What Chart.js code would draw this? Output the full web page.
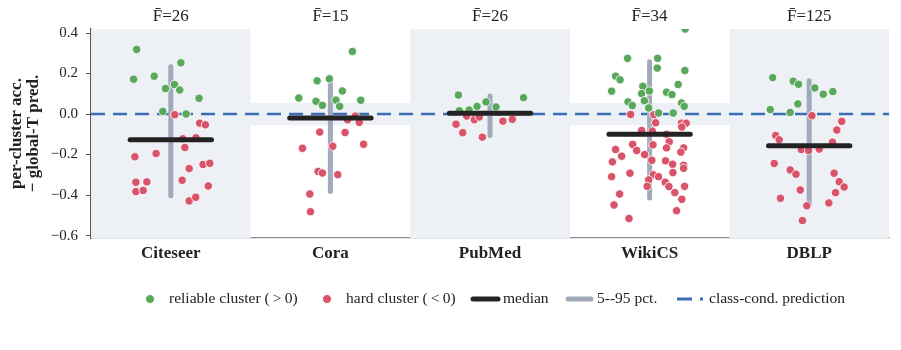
<!DOCTYPE html>
<html lang="en">
<head>
<meta charset="UTF-8">
<title>Per-cluster accuracy vs global-T prediction</title>
<script src="https://cdn.jsdelivr.net/npm/chart.js@4"></script>
<style>
    html, body { margin: 0; padding: 0; background: #ffffff; }
</style>
</head>
<body>
<canvas id="chart" width="901" height="350"></canvas>
<script>
// datasets on the x axis
const categories = ['Citeseer', 'Cora', 'PubMed', 'WikiCS', 'DBLP'];
const fbar = [26, 15, 26, 34, 125];
const medians = [-0.127, -0.02, 0.004, -0.10, -0.157];
const pct5 = [-0.403, -0.383, -0.106, -0.415, -0.448];
const pct95 = [0.233, 0.164, 0.089, 0.258, 0.164];
const yTicks = [-0.6, -0.4, -0.2, 0.0, 0.2, 0.4];

// clusters as [jitter, value], one list per dataset
const reliable = [
    [[-0.214, 0.319], [-0.233, 0.172], [-0.104, 0.187], [0.063, 0.253], [-0.033, 0.126], [0.023, 0.146],
     [0.056, 0.119], [0.177, 0.078], [-0.05, 0.013], [0.096, 0.0]],
    [[0.138, 0.309], [-0.083, 0.164], [-0.006, 0.174], [0.075, 0.114], [-0.198, 0.079], [-0.09, 0.063],
     [-0.05, 0.043], [0.035, 0.069], [0.058, 0.038], [0.19, 0.068]],
    [[-0.198, 0.094], [-0.192, 0.017], [-0.131, 0.02], [-0.081, 0.038], [-0.025, 0.06], [0.038, 0.035],
     [0.21, 0.081]],
    [[0.223, 0.42], [-0.138, 0.275], [0.05, 0.275], [0.048, 0.227], [0.221, 0.215], [-0.213, 0.187],
     [-0.185, 0.169], [0.179, 0.146], [-0.042, 0.137], [-0.002, 0.114], [-0.238, 0.113], [-0.05, 0.101],
     [0.106, 0.108], [0.14, 0.096], [-0.033, 0.066], [-0.135, 0.06], [-0.108, 0.042], [-0.006, 0.03],
     [0.2, 0.055], [0.217, 0.038], [0.056, 0.005], [0.148, 0.005]],
    [[-0.229, 0.18], [-0.1, 0.162], [-0.067, 0.147], [0.035, 0.129], [0.088, 0.098], [0.148, 0.111],
     [-0.244, 0.022], [-0.071, 0.05], [-0.119, 0.008]]
];
const hard = [
    [[0.025, -0.003], [0.181, -0.045], [0.217, -0.053], [0.075, -0.122], [0.158, -0.117], [0.088, -0.165],
     [-0.225, -0.211], [-0.092, -0.195], [0.115, -0.269], [0.202, -0.249], [0.244, -0.243], [0.071, -0.327],
     [-0.219, -0.337], [-0.15, -0.335], [-0.219, -0.383], [-0.173, -0.377], [0.235, -0.355], [0.115, -0.429],
     [0.156, -0.411]],
    [[0.156, -0.01], [0.108, -0.028], [0.181, -0.041], [-0.067, -0.089], [0.092, -0.091], [-0.175, -0.169],
     [0.015, -0.159], [0.208, -0.149], [-0.077, -0.283], [-0.05, -0.291], [0.046, -0.299], [-0.129, -0.395],
     [-0.125, -0.482]],
    [[-0.146, -0.01], [-0.098, -0.028], [-0.067, -0.015], [-0.213, -0.05], [-0.171, -0.092], [-0.048, -0.114],
     [0.081, -0.035], [0.14, -0.026]],
    [[-0.119, -0.002], [0.027, -0.003], [0.038, -0.043], [0.2, -0.045], [0.229, -0.045], [0.202, -0.064],
     [-0.05, -0.081], [0.017, -0.084], [0.106, -0.1], [0.123, -0.137], [-0.106, -0.15], [0.021, -0.152],
     [0.106, -0.167], [0.213, -0.167], [-0.213, -0.175], [-0.081, -0.18], [0.196, -0.188], [-0.175, -0.208],
     [-0.031, -0.2], [-0.233, -0.236], [0.014, -0.228], [0.1, -0.231], [0.144, -0.248], [0.213, -0.253],
     [0.213, -0.268], [-0.123, -0.292], [0.146, -0.289], [-0.238, -0.309], [0.023, -0.3], [0.056, -0.309],
     [-0.006, -0.325], [0.098, -0.337], [-0.015, -0.357], [0.121, -0.358], [0.219, -0.357], [-0.188, -0.395],
     [0.158, -0.388], [0.202, -0.421], [-0.223, -0.449], [0.169, -0.477], [-0.129, -0.516]],
    [[0.017, -0.008], [0.204, -0.036], [0.173, -0.079], [-0.21, -0.106], [-0.188, -0.127], [0.146, -0.139],
     [-0.05, -0.175], [-0.004, -0.18], [0.063, -0.173], [-0.219, -0.244], [-0.119, -0.276], [-0.083, -0.297],
     [0.156, -0.292], [0.188, -0.334], [0.219, -0.36], [-0.056, -0.375], [0.165, -0.388], [-0.18, -0.416],
     [0.123, -0.439], [-0.015, -0.453], [-0.042, -0.526]]
];

const GREEN = '#59a85b';
const RED = '#d9536a';
const GREY = '#a0aaba';
const BLACK = '#232323';
const BLUE = '#3a6db3';
const BAND = '#edf0f5';
const SERIF = "'Liberation Serif', 'Times New Roman', serif";

Chart.defaults.font.family = SERIF;
Chart.defaults.color = '#222';

function toPoints(groups) {
    return groups.flatMap((g, i) => g.map(([j, v]) => ({ x: i + j, y: v })));
}

const medianData = medians.flatMap((m, i) => [{ x: i - 0.255, y: m }, { x: i + 0.255, y: m }, { x: i + 0.5, y: null }]);
const pctData = pct5.flatMap((lo, i) => [{ x: i, y: lo }, { x: i, y: pct95[i] }, { x: i + 0.5, y: null }]);

// light bands behind every other dataset plus the +-0.055 strip around zero
const bands = {
    id: 'bands',
    beforeDatasetsDraw(chart) {
        const { ctx, chartArea, scales } = chart;
        const x = scales.x, y = scales.y;
        ctx.save();
        ctx.fillStyle = BAND;
        const y0 = y.getPixelForValue(0.055), y1 = y.getPixelForValue(-0.055);
        ctx.fillRect(chartArea.left, y0, chartArea.right - chartArea.left, y1 - y0);
        categories.forEach((c, i) => {
            if (i % 2) return;
            const l = x.getPixelForValue(i - 0.5), r = x.getPixelForValue(i + 0.5);
            ctx.fillRect(l, chartArea.top, r - l, chartArea.bottom - chartArea.top);
        });
        ctx.restore();
    }
};

// legend row under the axis
const legendRow = {
    id: 'legendRow',
    afterDraw(chart) {
        const ctx = chart.ctx;
        const y = 299;
        ctx.save();
        ctx.font = '15.5px ' + SERIF;
        ctx.textBaseline = 'middle';

        ctx.strokeStyle = '#ffffff';
        ctx.lineWidth = 1;
        [[150, GREEN], [327, RED]].forEach(([cx, col]) => {
            ctx.beginPath();
            ctx.arc(cx, y, 4.5, 0, Math.PI * 2);
            ctx.fillStyle = col;
            ctx.fill();
            ctx.stroke();
        });

        ctx.lineCap = 'round';
        ctx.lineWidth = 5;
        ctx.strokeStyle = BLACK;
        ctx.beginPath(); ctx.moveTo(473, y); ctx.lineTo(498, y); ctx.stroke();
        ctx.strokeStyle = GREY;
        ctx.beginPath(); ctx.moveTo(568, y); ctx.lineTo(591, y); ctx.stroke();

        ctx.lineCap = 'butt';
        ctx.lineWidth = 3;
        ctx.strokeStyle = BLUE;
        ctx.beginPath(); ctx.moveTo(677, y); ctx.lineTo(692, y); ctx.stroke();
        ctx.beginPath(); ctx.moveTo(700, y); ctx.lineTo(703, y); ctx.stroke();

        ctx.fillStyle = '#222';
        ctx.fillText('reliable cluster (\u2009>\u20090)', 169, y);
        ctx.fillText('hard cluster (\u2009<\u20090)', 346, y);
        ctx.fillText('median', 503, y);
        ctx.fillText('5--95 pct.', 597, y);
        ctx.fillText('class-cond. prediction', 709, y);
        ctx.restore();
    }
};

const catTicks = scale => { scale.ticks = categories.map((c, i) => ({ value: i })); };

new Chart(document.getElementById('chart'), {
    type: 'scatter',
    data: {
        datasets: [
            {
                label: 'reliable cluster (>0)',
                data: toPoints(reliable),
                backgroundColor: GREEN,
                borderColor: 'rgba(255,255,255,0.85)',
                borderWidth: 1,
                pointRadius: 4.2,
                order: 1
            },
            {
                label: 'hard cluster (<0)',
                data: toPoints(hard),
                backgroundColor: RED,
                borderColor: 'rgba(255,255,255,0.85)',
                borderWidth: 1,
                pointRadius: 4.2,
                order: 1
            },
            {
                label: 'median',
                type: 'line',
                data: medianData,
                borderColor: BLACK,
                borderWidth: 5,
                borderCapStyle: 'round',
                pointRadius: 0,
                spanGaps: false,
                order: 0
            },
            {
                label: '5--95 pct.',
                type: 'line',
                data: pctData,
                borderColor: GREY,
                borderWidth: 5,
                borderCapStyle: 'round',
                pointRadius: 0,
                spanGaps: false,
                order: 2
            },
            {
                label: 'class-cond. prediction',
                type: 'line',
                data: [{ x: -0.5, y: 0 }, { x: 4.5, y: 0 }],
                borderColor: BLUE,
                borderWidth: 2.6,
                borderDash: [14, 8],
                pointRadius: 0,
                order: 3
            }
        ]
    },
    options: {
        responsive: false,
        animation: false,
        layout: { padding: { left: 0, right: 12, top: 0, bottom: 0 } },
        plugins: {
            legend: { display: false },
            tooltip: { enabled: false }
        },
        scales: {
            x: {
                type: 'linear',
                position: 'bottom',
                min: -0.5,
                max: 4.5,
                afterBuildTicks: catTicks,
                afterFit: s => { s.height = 112; },
                ticks: {
                    callback: v => categories[v],
                    font: { size: 17, weight: 'bold' },
                    color: '#222',
                    padding: 5,
                    maxRotation: 0,
                    autoSkip: false
                },
                grid: { display: false, drawTicks: false },
                border: { display: true, color: '#8a8a8a', width: 1.2 }
            },
            xTop: {
                type: 'linear',
                position: 'top',
                min: -0.5,
                max: 4.5,
                afterBuildTicks: catTicks,
                afterFit: s => { s.height = 29; },
                ticks: {
                    callback: v => 'F\u0304=' + fbar[v],
                    font: { size: 17 },
                    color: '#222',
                    padding: 2,
                    maxRotation: 0,
                    autoSkip: false
                },
                grid: { display: false, drawTicks: false },
                border: { display: false }
            },
            y: {
                min: -0.612,
                max: 0.42,
                afterBuildTicks: s => { s.ticks = yTicks.map(v => ({ value: v })); },
                afterFit: s => { s.width = 91; },
                ticks: {
                    callback: v => v.toFixed(1).replace('-', '\u2212'),
                    font: { size: 15 },
                    color: '#222',
                    padding: 8
                },
                grid: { drawOnChartArea: false, drawTicks: true, tickLength: 5, color: '#555' },
                border: { display: true, color: '#555', width: 1.2 },
                title: {
                    display: true,
                    text: ['per-cluster acc.', '\u2212 global-T pred.'],
                    font: { size: 17, weight: 'bold', lineHeight: 1.0 },
                    color: '#222',
                    padding: { top: 8, bottom: 0 }
                }
            }
        }
    },
    plugins: [bands, legendRow]
});
</script>
</body>
</html>
